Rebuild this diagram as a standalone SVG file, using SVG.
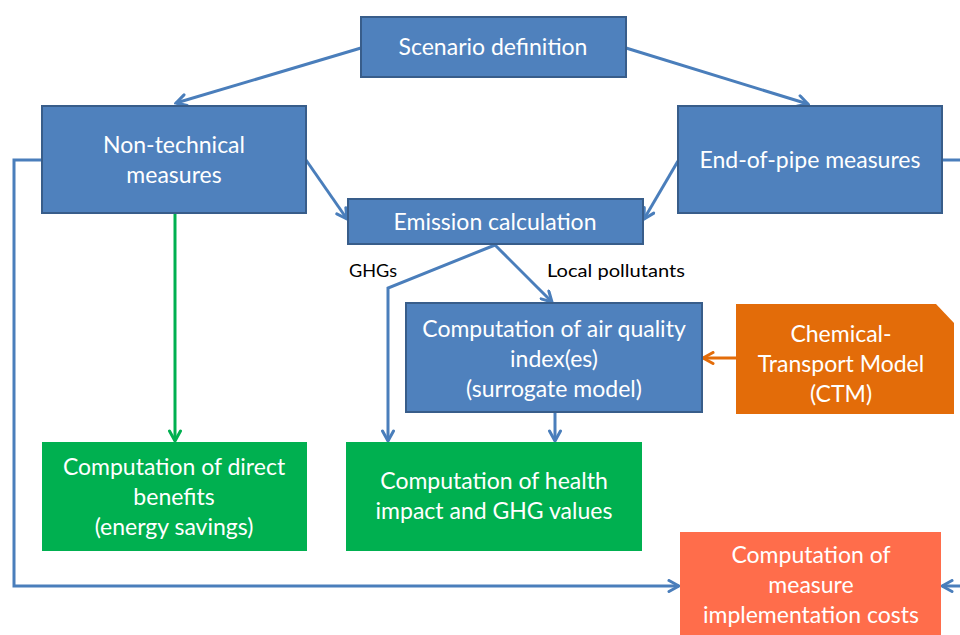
<svg xmlns="http://www.w3.org/2000/svg" width="960" height="635" viewBox="0 0 960 635">
<defs>
<marker id="ab" viewBox="0 0 14 14" refX="12" refY="7" markerWidth="14" markerHeight="14" markerUnits="userSpaceOnUse" orient="auto">
<path d="M2,1.5 L12,7 L2,12.5" fill="none" stroke="#4A7EBB" stroke-width="3" stroke-linecap="round"/>
</marker>
<marker id="ag" viewBox="0 0 14 14" refX="12" refY="7" markerWidth="14" markerHeight="14" markerUnits="userSpaceOnUse" orient="auto">
<path d="M2,1.5 L12,7 L2,12.5" fill="none" stroke="#00B050" stroke-width="3" stroke-linecap="round"/>
</marker>
<marker id="ao" viewBox="0 0 14 14" refX="12" refY="7" markerWidth="14" markerHeight="14" markerUnits="userSpaceOnUse" orient="auto">
<path d="M2,1.5 L12,7 L2,12.5" fill="none" stroke="#E36C09" stroke-width="3" stroke-linecap="round"/>
</marker>
</defs>
<style>
.blue{fill:#4F81BD;stroke:#385D8A;stroke-width:2}
.green{fill:#00B050}
.orange{fill:#E36C09}
.red{fill:#FF6D4B}
.t{font-family:Lato,"Liberation Sans",sans-serif;font-size:23px;fill:#FFFFFF;text-anchor:middle}
.l{font-family:Lato,"Liberation Sans",sans-serif;font-size:18px;fill:#000000}
.c{fill:none;stroke:#4A7EBB;stroke-width:3}
.cg{fill:none;stroke:#00B050;stroke-width:3}
.co{fill:none;stroke:#E36C09;stroke-width:3}
</style>
<rect width="960" height="635" fill="#FFFFFF"/>
<g id="connectors">
<path class="c" d="M361,48 L176,103" marker-end="url(#ab)"/>
<path class="c" d="M626,48 L808,104" marker-end="url(#ab)"/>
<path class="c" d="M306,160 L347,219" marker-end="url(#ab)"/>
<path class="c" d="M678,161 L644,219" marker-end="url(#ab)"/>
<path class="c" d="M495,245 L388,288 L388,441" marker-end="url(#ab)"/>
<path class="c" d="M495,245 L552,302" marker-end="url(#ab)"/>
<path class="c" d="M555,412 L555,441" marker-end="url(#ab)"/>
<path class="co" d="M736,358 L703,358" marker-end="url(#ao)"/>
<path class="cg" d="M175,213 L175,441" marker-end="url(#ag)"/>
<path class="c" d="M42,160 L14,160 L14,586 L679,586" marker-end="url(#ab)"/>
<path class="c" d="M942,160 L966,160 L966,586 L942,586" marker-end="url(#ab)"/>
<text class="l" x="349" y="277" textLength="48" lengthAdjust="spacingAndGlyphs">GHGs</text>
<text class="l" x="547" y="277" textLength="138" lengthAdjust="spacingAndGlyphs">Local pollutants</text>
</g>
<g id="scenario">
<rect class="blue" x="361" y="17" width="265" height="60"/>
<text class="t" x="493" y="55">Scenario definition</text>
</g>
<g id="nontech">
<rect class="blue" x="42" y="106" width="264" height="107"/>
<text class="t" x="174" y="153">Non-technical</text>
<text class="t" x="174" y="183">measures</text>
</g>
<g id="endofpipe">
<rect class="blue" x="678" y="106" width="264" height="107"/>
<text class="t" x="810" y="168">End-of-pipe measures</text>
</g>
<g id="emission">
<rect class="blue" x="348" y="199" width="295" height="45"/>
<text class="t" x="495" y="230">Emission calculation</text>
</g>
<g id="airquality">
<rect class="blue" x="406" y="303" width="296" height="109"/>
<text class="t" x="554" y="337">Computation of air quality</text>
<text class="t" x="554" y="367">index(es)</text>
<text class="t" x="554" y="397">(surrogate model)</text>
</g>
<g id="ctm">
<path class="orange" d="M736,304 L936,304 L954,323 L954,414 L736,414 Z"/>
<text class="t" x="841" y="342">Chemical-</text>
<text class="t" x="841" y="372">Transport Model</text>
<text class="t" x="841" y="402">(CTM)</text>
</g>
<g id="directbenefits">
<rect class="green" x="42" y="442" width="265" height="109"/>
<text class="t" x="174" y="475">Computation of direct</text>
<text class="t" x="174" y="505">benefits</text>
<text class="t" x="174" y="535">(energy savings)</text>
</g>
<g id="health">
<rect class="green" x="346" y="442" width="296" height="109"/>
<text class="t" x="494" y="489">Computation of health</text>
<text class="t" x="494" y="519">impact and GHG values</text>
</g>
<g id="costs">
<rect class="red" x="680" y="532" width="261" height="110"/>
<text class="t" x="811" y="563">Computation of</text>
<text class="t" x="811" y="593">measure</text>
<text class="t" x="811" y="623">implementation costs</text>
</g>
</svg>
